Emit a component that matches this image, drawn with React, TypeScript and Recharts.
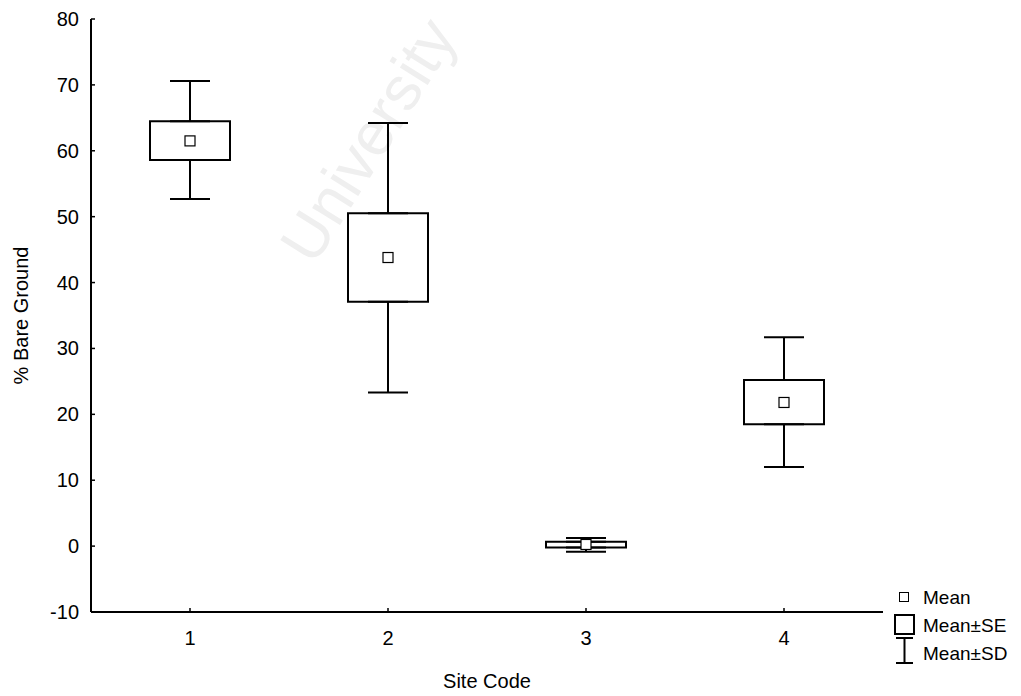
import React from 'react';
import { ComposedChart, Bar, Scatter, ErrorBar, XAxis, YAxis, Legend } from 'recharts';

const sites = ['1', '2', '3', '4'];
const means = [61.5, 43.8, 0.25, 21.8];
const seLow = [58.6, 37.1, -0.2, 18.5];
const seHigh = [64.5, 50.5, 0.65, 25.2];
const sdLow = [52.7, 23.3, -0.85, 12.0];
const sdHigh = [70.6, 64.2, 1.25, 31.7];
const yTicks = [-10, 0, 10, 20, 30, 40, 50, 60, 70, 80];
const legendLabels = ['Mean', 'Mean±SE', 'Mean±SD'];

// whiskers run from the SE box edges out to mean±SD
const chartData = sites.map((site, i) => ({
  site,
  mean: means[i],
  se: [seLow[i], seHigh[i]],
  seLow: seLow[i],
  seHigh: seHigh[i],
  upperWhisker: [0, sdHigh[i] - seHigh[i]],
  lowerWhisker: [seLow[i] - sdLow[i], 0],
}));

const FONT = '"Liberation Sans", Arial, sans-serif';

const YTick = (props: any) => {
  const { x, y, payload } = props;
  return (
    <g>
      <line x1={x} y1={y} x2={x + 4} y2={y} stroke="#000" strokeWidth={1.5} />
      <text x={x - 12} y={y + 7} textAnchor="end" fontSize={20} fill="#000">
        {payload.value}
      </text>
    </g>
  );
};

const XTick = (props: any) => {
  const { x, y, payload } = props;
  return (
    <g>
      <line x1={x} y1={y} x2={x} y2={y - 4} stroke="#000" strokeWidth={1.5} />
      <text x={x} y={y + 33} textAnchor="middle" fontSize={20} fill="#000">
        {payload.value}
      </text>
    </g>
  );
};

const MeanSquare = (props: any) => {
  const { cx, cy } = props;
  return <rect x={cx - 5} y={cy - 5} width={10} height={10} fill="#fff" stroke="#000" strokeWidth={1.2} />;
};

const renderLegend = () => (
  <svg width={131} height={90} style={{ fontFamily: FONT }}>
    <rect x={9.5} y={10.5} width={9} height={9} fill="#fff" stroke="#000" strokeWidth={1} />
    <text x={33} y={22} fontSize={19} fill="#000">{legendLabels[0]}</text>
    <rect x={5} y={33} width={19} height={19} fill="#fff" stroke="#000" strokeWidth={2} />
    <text x={33} y={50} fontSize={19} fill="#000">{legendLabels[1]}</text>
    <line x1={6} y1={56} x2={23} y2={56} stroke="#000" strokeWidth={2} />
    <line x1={14.5} y1={56} x2={14.5} y2={81} stroke="#000" strokeWidth={2} />
    <line x1={6} y1={81} x2={23} y2={81} stroke="#000" strokeWidth={2} />
    <text x={33} y={78} fontSize={19} fill="#000">{legendLabels[2]}</text>
  </svg>
);

export default function App() {
  return (
    <div style={{ position: 'absolute', left: 0, top: 0, width: 1021, height: 696, background: '#fff', fontFamily: FONT }}>
      <div
        style={{
          position: 'absolute',
          left: 368,
          top: 140,
          transform: 'translate(-50%, -50%) rotate(-58deg)',
          fontSize: 62,
          color: '#efefef',
          whiteSpace: 'nowrap',
          fontFamily: FONT,
        }}
      >
        University
      </div>
      <ComposedChart
        width={1021}
        height={696}
        data={chartData}
        margin={{ top: 19, right: 138, bottom: 0, left: 0 }}
        style={{ position: 'absolute', left: 0, top: 0 }}
      >
        <XAxis
          dataKey="site"
          type="category"
          height={84}
          axisLine={{ stroke: '#000', strokeWidth: 2 }}
          tickLine={false}
          tickSize={0}
          tickMargin={0}
          tick={<XTick />}
          interval={0}
          label={{ value: 'Site Code', position: 'insideBottom', offset: 8, fontSize: 20, fill: '#000' }}
        />
        <YAxis
          type="number"
          domain={[-10, 80]}
          ticks={yTicks}
          interval={0}
          width={91}
          axisLine={{ stroke: '#000', strokeWidth: 2 }}
          tickLine={false}
          tickSize={0}
          tickMargin={0}
          tick={<YTick />}
          label={{
            value: '% Bare Ground',
            angle: -90,
            position: 'insideLeft',
            offset: 21,
            fontSize: 20,
            fill: '#000',
            style: { textAnchor: 'middle' },
          }}
        />
        <Bar dataKey="se" barSize={80} fill="#fff" stroke="#000" strokeWidth={2} isAnimationActive={false} />
        <Scatter dataKey="seHigh" shape={() => <g />} isAnimationActive={false}>
          <ErrorBar dataKey="upperWhisker" direction="y" width={20} stroke="#000" strokeWidth={2} isAnimationActive={false} />
        </Scatter>
        <Scatter dataKey="seLow" shape={() => <g />} isAnimationActive={false}>
          <ErrorBar dataKey="lowerWhisker" direction="y" width={20} stroke="#000" strokeWidth={2} isAnimationActive={false} />
        </Scatter>
        <Scatter dataKey="mean" shape={<MeanSquare />} isAnimationActive={false} />
        <Legend
          layout="vertical"
          align="center"
          verticalAlign="middle"
          content={renderLegend}
          wrapperStyle={{ left: 890, top: 582, width: 131, height: 90 }}
        />
      </ComposedChart>
    </div>
  );
}
